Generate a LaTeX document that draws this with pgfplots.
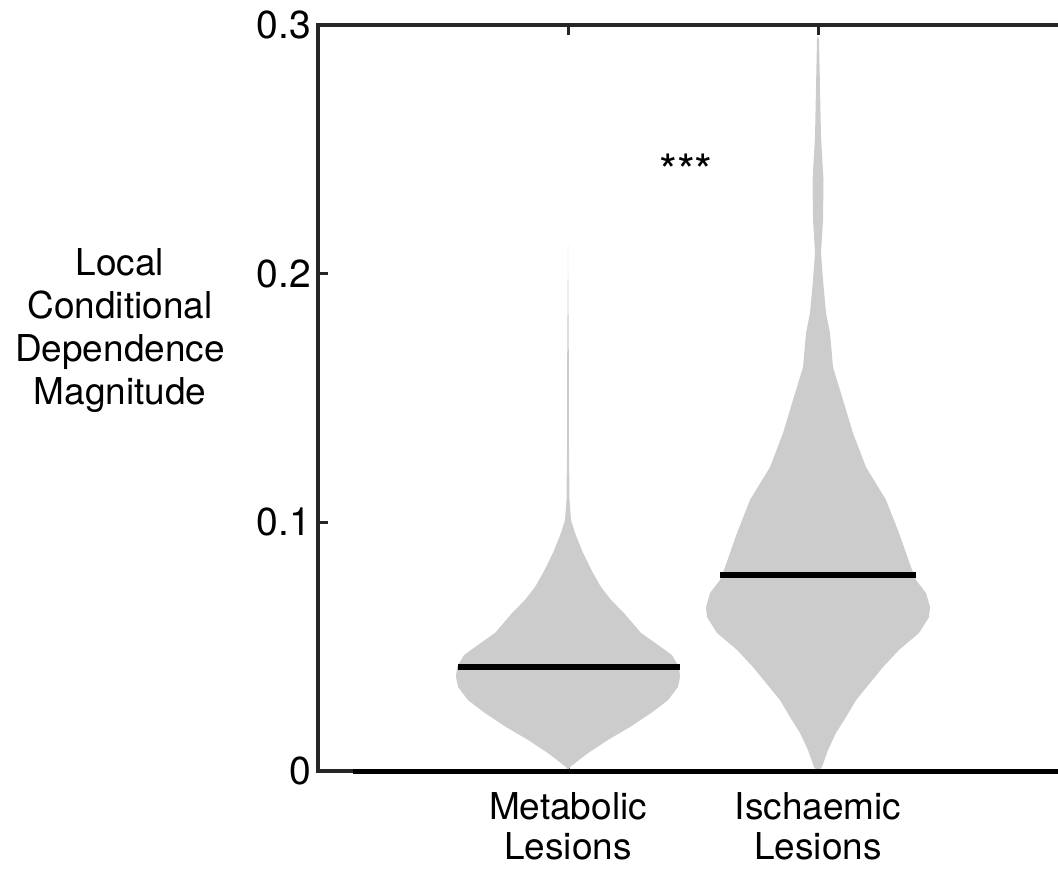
\documentclass[border=0pt]{standalone}
\usepackage{fontspec}
\setmainfont{TeX Gyre Heros}
\usepackage{pgfplots}
\usepackage{pgfplotstable}
\pgfplotsset{compat=1.18}
\usepgfplotslibrary{fillbetween}
\definecolor{violin}{HTML}{CCCCCC}
\definecolor{axgray}{HTML}{262626}

% half-width (w, in x units) of each violin against value (v)
\pgfplotstableread{
v w
0.0000 0.000
0.0016 0.008
0.0072 0.080
0.0125 0.160
0.0177 0.248
0.0233 0.332
0.0285 0.400
0.0338 0.440
0.0378 0.448
0.0418 0.444
0.0466 0.416
0.0507 0.360
0.0555 0.292
0.0635 0.224
0.0688 0.172
0.0740 0.132
0.0796 0.100
0.0877 0.060
0.0957 0.028
0.1009 0.012
0.1090 0.006
0.1291 0.004
0.1693 0.003
0.2115 0.000
}\metab
\pgfplotstableread{
v w
0.0000 0.000
0.0016 0.016
0.0084 0.040
0.0153 0.072
0.0217 0.112
0.0285 0.152
0.0354 0.208
0.0418 0.260
0.0487 0.324
0.0555 0.404
0.0619 0.444
0.0659 0.448
0.0716 0.432
0.0768 0.392
0.0820 0.372
0.0957 0.324
0.1090 0.272
0.1222 0.192
0.1359 0.140
0.1492 0.100
0.1624 0.060
0.1761 0.048
0.1842 0.032
0.1974 0.020
0.2083 0.012
0.2216 0.020
0.2376 0.022
0.2549 0.012
0.2750 0.008
0.2939 0.004
0.2959 0.000
}\ischa

\begin{document}
\begin{tikzpicture}
\begin{axis}[
  at={(0,0)}, anchor=south west,
  scale only axis,
  width=375pt, height=373pt,
  xmin=0, xmax=3, ymin=0, ymax=0.3,
  xtick={1,2},
  xticklabels={{Metabolic\\Lesions},{Ischaemic\\Lesions}},
  ytick={0,0.1,0.2,0.3},
  yticklabels={0,0.1,0.2,0.3},
  tick align=inside,
  major tick length=5pt,
  tick style={axgray, line width=1.5pt},
  axis line style={axgray, line width=2pt},
  yticklabel style={font=\fontsize{19.5}{20}\selectfont},
  xticklabel style={align=center, yshift=-7pt, font=\fontsize{18.5}{20}\selectfont},
  /pgf/number format/assume math mode=true,
  clip=false,
]
  % Metabolic violin
  \addplot[draw=none, name path=ml] table[x expr=1-\thisrow{w}, y=v] {\metab};
  \addplot[draw=none, name path=mr] table[x expr=1+\thisrow{w}, y=v] {\metab};
  \addplot[violin, draw=none] fill between[of=ml and mr];
  % Ischaemic violin
  \addplot[draw=none, name path=il] table[x expr=2-\thisrow{w}, y=v] {\ischa};
  \addplot[draw=none, name path=ir] table[x expr=2+\thisrow{w}, y=v] {\ischa};
  \addplot[violin, draw=none] fill between[of=il and ir];
  % medians
  \addplot[black, line width=3pt] coordinates {(0.56,0.0418) (1.448,0.0418)};
  \addplot[black, line width=3pt] coordinates {(1.608,0.0788) (2.392,0.0788)};
  % baseline
  \addplot[black, line width=2.5pt] coordinates {(0.14,0) (3,0)};
  \node[font=\fontsize{23}{24}\selectfont] at (axis cs:1.472,0.2415) {***};
  \node[align=center, font=\fontsize{18.5}{21.5}\selectfont, xshift=-99pt]
    at (rel axis cs:0,0.591) {Local\\Conditional\\Dependence\\Magnitude};
\end{axis}
\pgfresetboundingbox
\useasboundingbox (-159pt,-51.5pt) rectangle (370pt,385.5pt);
\end{tikzpicture}
\end{document}
